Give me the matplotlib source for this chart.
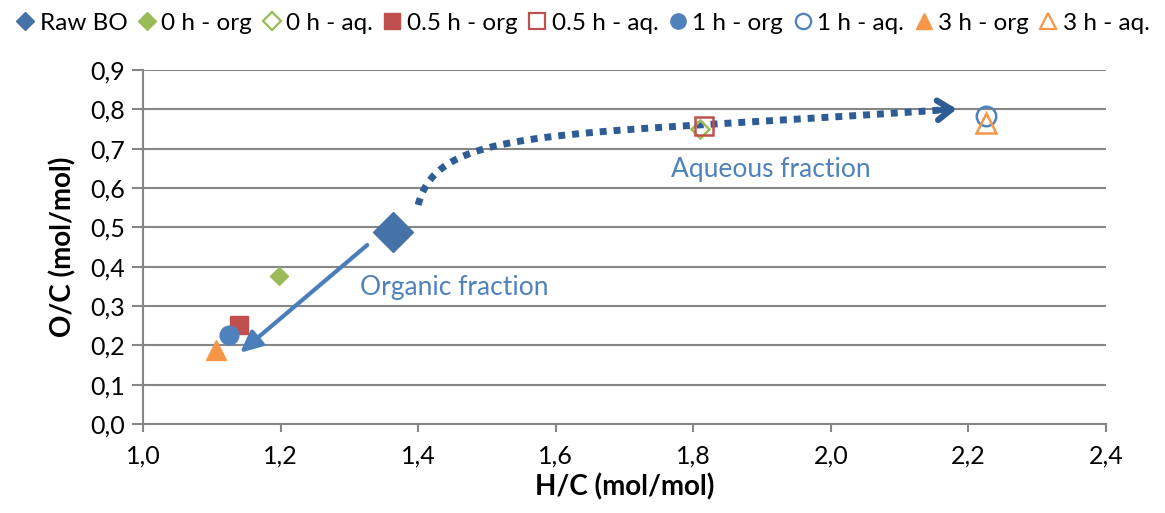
import numpy as np
import matplotlib
matplotlib.use("Agg")
import matplotlib.pyplot as plt
from matplotlib.lines import Line2D

plt.rcParams['font.family'] = ['Lato', 'DejaVu Sans']

# ---- data ----
labels = ["Raw BO", "0 h - org", "0 h - aq.", "0.5 h - org", "0.5 h - aq.",
          "1 h - org", "1 h - aq.", "3 h - org", "3 h - aq."]
hc = [1.363, 1.198, 1.810, 1.140, 1.815, 1.125, 2.225, 1.106, 2.225]
oc = [0.488, 0.376, 0.750, 0.252, 0.758, 0.226, 0.783, 0.188, 0.765]
markers = ["D", "D", "D", "s", "s", "o", "o", "^", "^"]
colors = ["#4572a7", "#9bbb59", "#9bbb59", "#c0504d", "#c0504d",
          "#4f81bd", "#4f81bd", "#f79646", "#f79646"]
filled = [True, True, False, True, False, True, False, True, False]
sizes = [20, 9, 9, 13.5, 13.5, 13.5, 14, 14, 14]

xticks = [1.0, 1.2, 1.4, 1.6, 1.8, 2.0, 2.2, 2.4]
yticks = [0.0, 0.1, 0.2, 0.3, 0.4, 0.5, 0.6, 0.7, 0.8, 0.9]

# annotation geometry
org_arrow_start = (1.326, 0.455)
org_arrow_end = (1.141, 0.181)
aq_curve = [(1.400, 0.557), (1.430, 0.760), (1.600, 0.730), (2.183, 0.801)]
org_text = (1.453, 0.346)
aq_text = (1.913, 0.648)

fig = plt.figure(figsize=(11.65, 5.13), dpi=100)
ax = fig.add_axes([0.1227, 0.1735, 0.9494 - 0.1227, 0.8635 - 0.1735])

ax.set_xlim(1.0, 2.4)
ax.set_ylim(0.0, 0.9)
ax.set_xticks(xticks)
ax.set_yticks(yticks)
ax.set_xticklabels([f"{v:.1f}".replace(".", ",") for v in xticks])
ax.set_yticklabels([f"{v:.1f}".replace(".", ",") for v in yticks])
ax.tick_params(axis='both', labelsize=18, colors='#868686', labelcolor='black',
               length=6, width=1.5)
ax.tick_params(axis='y', length=8, pad=5)
ax.tick_params(axis='x', pad=9)
ax.grid(axis='y', color='#868686', lw=1.5)
ax.set_axisbelow(True)
for s in ['top', 'right']:
    ax.spines[s].set_visible(False)
for s in ['left', 'bottom']:
    ax.spines[s].set_color('#868686')
    ax.spines[s].set_linewidth(1.5)

ax.set_xlabel("H/C (mol/mol)", fontsize=20, fontweight='bold', labelpad=4)
ax.set_ylabel("O/C (mol/mol)", fontsize=20, fontweight='bold', labelpad=10)

# arrows
ax.annotate('', xy=org_arrow_end, xytext=org_arrow_start,
            arrowprops=dict(arrowstyle='-|>,head_length=1.3,head_width=0.6',
                            color='#4a7ebb', lw=3, shrinkA=0, shrinkB=0))
P0, P1, P2, P3 = [np.array(p) for p in aq_curve]
t = np.linspace(0, 0.99, 300)[:, None]
curve = ((1 - t) ** 3 * P0 + 3 * (1 - t) ** 2 * t * P1
         + 3 * (1 - t) * t ** 2 * P2 + t ** 3 * P3)
ax.plot(curve[:, 0], curve[:, 1], color='#2e5c94', lw=5,
        linestyle=(0, (1.0, 1.0)), solid_capstyle='butt', zorder=2)
ax.annotate('', xy=tuple(P3), xytext=tuple(curve[-2]),
            arrowprops=dict(arrowstyle='->,head_length=1.0,head_width=0.7',
                            color='#2e5c94', lw=4.5, shrinkA=0, shrinkB=0),
            zorder=2)

ax.text(*org_text, "Organic fraction", color='#4f81bd', fontsize=19,
        ha='center', va='center')
ax.text(*aq_text, "Aqueous fraction", color='#4f81bd', fontsize=19,
        ha='center', va='center')

# points
handles = []
for x, y, m, c, f, s, lab in zip(hc, oc, markers, colors, filled, sizes, labels):
    ax.plot([x], [y], marker=m, ms=s, color=c,
            markerfacecolor=c if f else 'none', markeredgecolor=c,
            markeredgewidth=1.0 if f else 1.8, linestyle='none', zorder=3)
    handles.append(Line2D([], [], marker=m, ms=11 if m != "D" else 9, color=c,
                          markerfacecolor=c if f else 'none',
                          markeredgecolor=c, markeredgewidth=1.0 if f else 1.6,
                          linestyle='none', label=lab))

fig.legend(handles=handles, loc='center', bbox_to_anchor=(0.5, 0.955),
           ncol=9, frameon=False, fontsize=17.5, handlelength=0.8,
           handletextpad=0.2, columnspacing=0.4, borderaxespad=0)

fig.savefig("out.png", dpi=100)
